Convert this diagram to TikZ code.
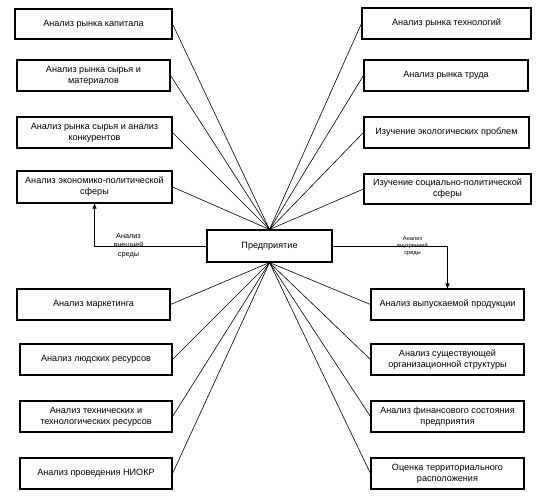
\documentclass[tikz,border=0pt]{standalone}
\usepackage{fontspec}
\setmainfont{Liberation Sans}
\usetikzlibrary{arrows.meta}
\begin{document}
\begin{tikzpicture}[x=1pt,y=-1pt,
  box/.style={draw, line width=1.1pt, rectangle, inner sep=1pt, align=center,
    font=\fontsize{9.1}{11}\selectfont, minimum height=31pt},
  conn/.style={draw, line width=0.6pt},
  elbow/.style={draw, line width=0.6pt, -{Triangle[length=5pt,width=4pt]}},
  lbl/.style={align=center, inner sep=0pt}]
\useasboundingbox (0,0) rectangle (544,496);
\node[box, minimum width=125pt, minimum height=32pt] (c) at (269.5,246) {Предприятие};
% left upper
\node[box, minimum width=157pt, minimum height=30pt] (l1) at (93.5,24) {Анализ рынка капитала};
\node[box, minimum width=153pt] (l2) at (93.5,75.5) {Анализ рынка сырья и\\материалов};
\node[box, minimum width=155pt] (l3) at (94.5,132.5) {Анализ рынка сырья и анализ\\конкурентов};
\node[box, minimum width=155pt, minimum height=32pt] (l4) at (94.5,187) {Анализ экономико-политической\\сферы};
% right upper
\node[box, minimum width=169pt] (r1) at (446.5,23.5) {Анализ рынка технологий};
\node[box, minimum width=164pt] (r2) at (446,75.5) {Анализ рынка труда};
\node[box, minimum width=165pt] (r3) at (446.5,132.5) {Изучение экологических проблем};
\node[box, minimum width=167pt, minimum height=30pt] (r4) at (447.5,189) {Изучение социально-политической\\сферы};
% left lower
\node[box, minimum width=153pt] (l5) at (93.5,304.5) {Анализ маркетинга};
\node[box, minimum width=152pt] (l6) at (96,359.5) {Анализ людских ресурсов};
\node[box, minimum width=152pt] (l7) at (96,416.5) {Анализ технических и\\технологических ресурсов};
\node[box, minimum width=152pt] (l8) at (96,473.5) {Анализ проведения НИОКР};
% right lower
\node[box, minimum width=153pt] (r5) at (447.5,304.5) {Анализ выпускаемой продукции};
\node[box, minimum width=153pt] (r6) at (447.5,359.5) {Анализ существующей\\организационной структуры};
\node[box, minimum width=153pt] (r7) at (447.5,416.5) {Анализ финансового состояния\\предприятия};
\node[box, minimum width=153pt] (r8) at (447.5,473.5) {Оценка территориального\\расположения};
% spokes
\foreach \n in {l1,l2,l3,l4} \draw[conn] (\n.east) -- (c.north);
\foreach \n in {r1,r2,r3,r4} \draw[conn] (\n.west) -- (c.north);
\foreach \n in {l5,l6,l7,l8} \draw[conn] (\n.east) -- (c.south);
\foreach \n in {r5,r6,r7,r8} \draw[conn] (\n.west) -- (c.south);
% elbows
\draw[elbow] (c.west) -| (l4.south);
\draw[elbow] (c.east) -| (r5.north);
\node[lbl, font=\fontsize{7.3}{9}\selectfont] (ext) at (128.5,246) {Анализ\\внешней\\среды};
\node[lbl, font=\fontsize{5.7}{7}\selectfont] (int) at (412.5,246) {Анализ\\внутренней\\среды};
\end{tikzpicture}
\end{document}
